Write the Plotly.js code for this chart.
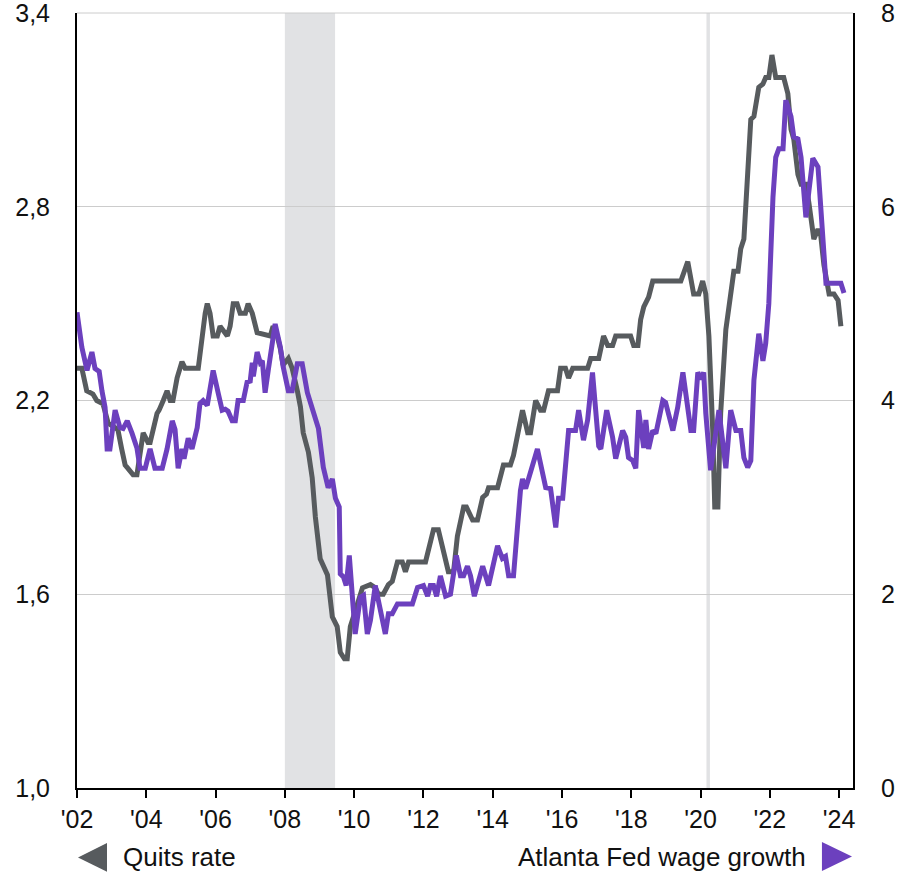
<!DOCTYPE html>
<html>
<head>
<meta charset="utf-8">
<script src="https://cdn.plot.ly/plotly-3.0.1.min.js"></script>
<style>html,body{margin:0;padding:0;background:#fff;}#chart{width:912px;height:875px;}</style>
</head>
<body>
<div id="chart"></div>
<script>
// Quits rate (left axis), decimal years
const quitsX = [2002.00,2002.14,2002.28,2002.46,2002.57,2002.75,2002.90,2003.04,2003.18,2003.29,2003.39,2003.47,2003.62,2003.73,2003.82,2003.91,2004.05,2004.11,2004.31,2004.37,2004.49,2004.60,2004.69,2004.77,2004.89,2005.03,2005.12,2005.50,2005.70,2005.76,2005.84,2005.93,2006.05,2006.13,2006.34,2006.42,2006.51,2006.62,2006.71,2006.86,2006.94,2007.06,2007.20,2007.58,2007.66,2007.78,2007.87,2007.95,2008.10,2008.21,2008.36,2008.45,2008.53,2008.68,2008.79,2008.88,2009.02,2009.23,2009.37,2009.51,2009.60,2009.72,2009.80,2009.89,2009.98,2010.12,2010.24,2010.47,2010.61,2010.70,2010.84,2010.99,2011.10,2011.25,2011.39,2011.48,2011.57,2012.06,2012.29,2012.43,2012.58,2012.72,2012.87,2012.98,2013.16,2013.24,2013.42,2013.56,2013.71,2013.82,2013.88,2014.14,2014.31,2014.51,2014.60,2014.72,2014.86,2015.01,2015.09,2015.24,2015.38,2015.47,2015.61,2015.87,2015.96,2016.10,2016.19,2016.31,2016.74,2016.83,2017.06,2017.20,2017.32,2017.46,2017.55,2017.98,2018.07,2018.19,2018.27,2018.36,2018.50,2018.62,2019.00,2019.43,2019.63,2019.80,2019.95,2020.06,2020.15,2020.24,2020.35,2020.41,2020.50,2020.58,2020.73,2020.96,2021.08,2021.16,2021.25,2021.36,2021.45,2021.54,2021.68,2021.80,2021.88,2021.97,2022.06,2022.17,2022.40,2022.52,2022.61,2022.69,2022.81,2022.90,2023.04,2023.13,2023.27,2023.39,2023.47,2023.56,2023.71,2023.85,2023.97,2024.05];
const quitsY = [2.30,2.30,2.23,2.22,2.20,2.19,2.13,2.12,2.11,2.05,2.00,1.99,1.97,1.97,2.05,2.10,2.07,2.07,2.16,2.17,2.20,2.23,2.20,2.20,2.27,2.32,2.30,2.30,2.47,2.50,2.47,2.40,2.40,2.43,2.40,2.43,2.50,2.50,2.47,2.47,2.50,2.47,2.41,2.40,2.43,2.40,2.36,2.31,2.33,2.30,2.23,2.18,2.10,2.04,1.96,1.84,1.71,1.66,1.53,1.50,1.42,1.40,1.40,1.50,1.53,1.58,1.62,1.63,1.62,1.60,1.60,1.63,1.64,1.70,1.70,1.67,1.70,1.70,1.80,1.80,1.74,1.67,1.67,1.78,1.87,1.87,1.83,1.83,1.90,1.91,1.93,1.93,2.00,2.00,2.03,2.10,2.17,2.10,2.10,2.20,2.17,2.17,2.23,2.23,2.30,2.30,2.27,2.30,2.30,2.33,2.33,2.40,2.37,2.37,2.40,2.40,2.37,2.37,2.45,2.49,2.52,2.57,2.57,2.57,2.63,2.53,2.53,2.57,2.53,2.40,2.11,1.87,1.87,2.16,2.42,2.60,2.60,2.67,2.70,2.91,3.07,3.08,3.17,3.18,3.20,3.20,3.27,3.20,3.20,3.15,3.04,3.01,2.90,2.87,2.87,2.81,2.70,2.73,2.71,2.62,2.53,2.53,2.51,2.43];

// Atlanta Fed wage growth (right axis), decimal years
const wageX = [2002.00,2002.14,2002.29,2002.43,2002.52,2002.64,2002.72,2002.81,2002.87,2002.95,2003.10,2003.24,2003.33,2003.45,2003.59,2003.73,2003.82,2003.97,2004.11,2004.25,2004.46,2004.60,2004.75,2004.83,2004.92,2005.03,2005.09,2005.21,2005.32,2005.47,2005.55,2005.64,2005.76,2005.93,2006.08,2006.19,2006.28,2006.36,2006.48,2006.57,2006.65,2006.80,2006.91,2007.00,2007.06,2007.09,2007.20,2007.29,2007.35,2007.43,2007.52,2007.72,2007.87,2007.95,2008.10,2008.21,2008.36,2008.50,2008.65,2008.97,2009.11,2009.25,2009.37,2009.46,2009.57,2009.60,2009.69,2009.77,2009.86,2009.95,2010.03,2010.18,2010.27,2010.38,2010.47,2010.61,2010.76,2010.90,2010.99,2011.10,2011.25,2011.68,2011.83,2012.00,2012.12,2012.20,2012.29,2012.38,2012.49,2012.64,2012.78,2012.95,2013.07,2013.16,2013.27,2013.36,2013.47,2013.71,2013.88,2014.14,2014.28,2014.37,2014.46,2014.60,2014.80,2014.86,2014.95,2015.29,2015.53,2015.67,2015.82,2015.90,2016.02,2016.19,2016.39,2016.48,2016.62,2016.74,2016.88,2017.06,2017.12,2017.29,2017.46,2017.55,2017.75,2017.84,2017.92,2018.04,2018.13,2018.21,2018.36,2018.42,2018.50,2018.62,2018.71,2018.91,2018.99,2019.20,2019.34,2019.49,2019.72,2019.80,2019.92,2020.01,2020.09,2020.15,2020.29,2020.53,2020.73,2020.87,2021.02,2021.16,2021.25,2021.36,2021.45,2021.54,2021.68,2021.80,2021.88,2021.97,2022.09,2022.17,2022.26,2022.38,2022.46,2022.61,2022.69,2022.81,2022.90,2023.04,2023.13,2023.24,2023.39,2023.47,2023.62,2023.76,2024.05,2024.14];
const wageY = [4.91,4.55,4.31,4.50,4.33,4.30,4.10,3.93,3.50,3.50,3.90,3.72,3.71,3.79,3.66,3.51,3.30,3.30,3.50,3.30,3.30,3.50,3.79,3.70,3.30,3.50,3.40,3.61,3.50,3.72,3.97,4.00,3.95,4.31,4.07,3.90,3.91,3.89,3.79,3.79,4.00,4.00,4.19,4.20,4.39,4.25,4.50,4.39,4.41,4.08,4.31,4.79,4.55,4.35,4.10,4.10,4.38,4.38,4.08,3.71,3.31,3.10,3.19,2.99,2.90,2.21,2.18,2.09,2.40,1.97,1.59,1.97,1.99,1.59,1.73,2.09,1.83,1.59,1.80,1.80,1.90,1.90,2.07,2.09,1.98,2.09,2.09,1.98,2.19,1.98,2.00,2.40,2.19,2.19,2.29,2.19,1.98,2.29,2.09,2.50,2.37,2.39,2.19,2.19,3.07,3.19,3.09,3.50,3.10,3.09,2.69,2.99,2.99,3.69,3.69,3.90,3.59,3.80,4.29,3.53,3.50,3.90,3.62,3.40,3.69,3.62,3.41,3.38,3.30,3.90,3.51,3.80,3.50,3.69,3.66,4.00,3.98,3.69,3.93,4.29,3.69,3.69,4.29,4.22,4.29,3.87,3.28,3.90,3.30,3.90,3.69,3.69,3.41,3.31,3.38,4.21,4.69,4.41,4.59,5.00,6.10,6.51,6.60,6.60,7.10,6.93,6.72,6.70,6.51,5.89,6.17,6.50,6.41,6.04,5.21,5.21,5.21,5.11];

const yearTicks = [2002,2004,2006,2008,2010,2012,2014,2016,2018,2020,2022,2024];
const yearLabels = ["'02","'04","'06","'08","'10","'12","'14","'16","'18","'20","'22","'24"];
const leftTicks = [1.0,1.6,2.2,2.8,3.4];
const rightTicks = [0,2,4,6,8];
const recessions = [[2008.0, 2009.45],[2020.17, 2020.27]];
const seriesNames = ["Quits rate","Atlanta Fed wage growth"];

const GRAY = '#575b5e';
const PURPLE = '#6c40be';
const FONT = 'Liberation Sans, Arial, sans-serif';
const TXT = '#111111';

const traces = [
  {x: quitsX, y: quitsY, type: 'scatter', mode: 'lines', name: seriesNames[0],
   line: {color: GRAY, width: 5}, yaxis: 'y', hoverinfo: 'skip'},
  {x: wageX, y: wageY, type: 'scatter', mode: 'lines', name: seriesNames[1],
   line: {color: PURPLE, width: 5}, yaxis: 'y2', hoverinfo: 'skip'}
];

const shapes = recessions.map(r => ({
  type: 'rect', xref: 'x', yref: 'paper', x0: r[0], x1: r[1], y0: 0, y1: 1,
  fillcolor: '#e1e2e4', line: {width: 0}, layer: 'between'
}));
// top grid line (3,4)
shapes.push({type: 'line', xref: 'paper', yref: 'paper', x0: 0, x1: 1, y0: 1, y1: 1,
  line: {color: '#cccccc', width: 1}, layer: 'between'});
shapes.push({type: 'path', xref: 'paper', yref: 'paper',
  path: 'M 0.0387 -0.071 L 0.0013 -0.0897 L 0.0387 -0.108 Z',
  fillcolor: GRAY, line: {width: 0}});
shapes.push({type: 'path', xref: 'paper', yref: 'paper',
  path: 'M 0.960 -0.0697 L 0.9987 -0.0884 L 0.960 -0.107 Z',
  fillcolor: PURPLE, line: {width: 0}});

const layout = {
  width: 912, height: 875,
  margin: {l: 77, r: 59, t: 13, b: 87, pad: 0},
  paper_bgcolor: '#ffffff', plot_bgcolor: '#ffffff',
  separators: ',.',
  showlegend: false,
  font: {family: FONT, size: 25, color: TXT},
  xaxis: {
    range: [2002, 2024.4], tickmode: 'array', tickvals: yearTicks, ticktext: yearLabels,
    ticks: 'outside', ticklen: 8, tickwidth: 2, tickcolor: '#000000',
    showline: true, linecolor: '#000000', linewidth: 2,
    showgrid: false, zeroline: false, ticklabelstandoff: 0,
    tickfont: {family: FONT, size: 25, color: TXT}
  },
  yaxis: {
    range: [1.0, 3.4], tickmode: 'array', tickvals: leftTicks, tickformat: '.1f',
    showgrid: true, gridcolor: '#cccccc', gridwidth: 1,
    showline: true, linecolor: '#000000', linewidth: 2,
    zeroline: false, ticks: 'outside', ticklen: 20, tickcolor: 'rgba(0,0,0,0)',
    ticklabeloverflow: 'allow',
    tickfont: {family: FONT, size: 25, color: TXT}
  },
  yaxis2: {
    range: [0, 8], tickmode: 'array', tickvals: rightTicks,
    overlaying: 'y', side: 'right', anchor: 'x',
    showgrid: false, showline: true, linecolor: '#000000', linewidth: 2,
    zeroline: false, ticks: 'outside', ticklen: 21, tickcolor: 'rgba(0,0,0,0)',
    ticklabeloverflow: 'allow',
    tickfont: {family: FONT, size: 25, color: TXT}
  },
  shapes: shapes,
  annotations: [
    {xref: 'paper', yref: 'paper', x: 0.0567, y: -0.0895, xanchor: 'left', yanchor: 'middle',
     text: seriesNames[0], showarrow: false, font: {family: FONT, size: 26, color: TXT}},
    {xref: 'paper', yref: 'paper', x: 0.942, y: -0.0895, xanchor: 'right', yanchor: 'middle',
     text: seriesNames[1], showarrow: false, font: {family: FONT, size: 26, color: TXT}}
  ]
};

Plotly.newPlot('chart', traces, layout, {displayModeBar: false, staticPlot: true});
</script>
</body>
</html>
